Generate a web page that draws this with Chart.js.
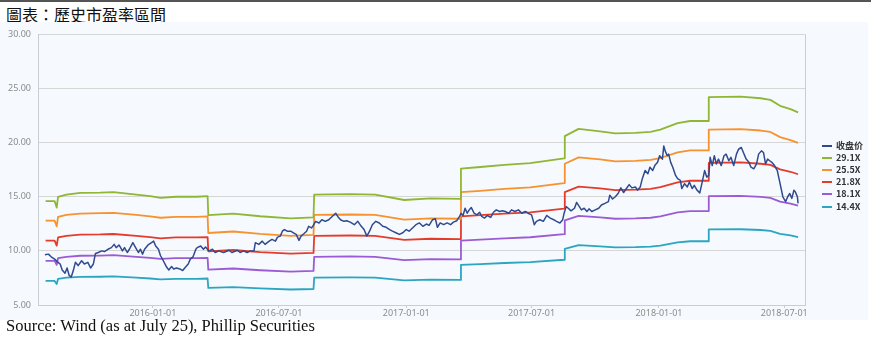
<!DOCTYPE html>
<html><head><meta charset="utf-8">
<script src="https://cdn.jsdelivr.net/npm/chart.js@4.4.1/dist/chart.umd.min.js"></script>
<style>
html,body{margin:0;padding:0;background:#fff;}
body{width:871px;height:341px;position:relative;overflow:hidden;}
#topline{position:absolute;left:0;top:0;width:871px;height:2px;background:#555;}
#title{position:absolute;left:6px;top:4px;font-family:"Noto Sans CJK TC",sans-serif;font-size:16px;line-height:20px;color:#111;white-space:nowrap;}
#panel{position:absolute;left:0;top:22px;width:868px;height:298px;background:#f6f9fd;}
#source{position:absolute;left:6px;top:317px;font-family:"Liberation Serif",serif;font-size:16.5px;line-height:18px;color:#111;white-space:nowrap;}
#legend{position:absolute;left:822px;top:139.6px;font-family:"Noto Sans CJK SC",sans-serif;font-size:9px;font-weight:bold;color:#333;}
.item{height:12.2px;line-height:12.2px;display:flex;align-items:center;white-space:nowrap;}
.sw{width:10px;height:2px;margin-right:4px;}
</style></head>
<body>
<div id="topline"></div>
<div id="title">圖表：歷史市盈率區間</div>
<div id="panel"><canvas id="c" width="868" height="298"></canvas></div>
<div id="legend"></div>
<div id="source">Source: Wind (as at July 25), Phillip Securities</div>
<script>
// x values are days counted from 2016-01-01
const ORIGIN = '2016-01-01';
const tickLabels = ['2016-01-01','2016-07-01','2017-01-01','2017-07-01','2018-01-01','2018-07-01'];
const yTicks = [5,10,15,20,25,30];

const seriesNames = ['收盘价','29.1X','25.5X','21.8X','18.1X','14.4X'];
const seriesColors = ['#2f4a8f','#8fb733','#f7922e','#e53b2a','#9b5bd4','#2aa6c1'];

const closeDays = [-156,-151,-147,-142,-137,-134,-131,-127,-124,-121,-118,-115,-112,-108,-103,-99,-94,-90,-86,-83,-79,-74,-70,-65,-60,-56,-53,-49,-44,-41,-37,-34,-29,-25,-21,-18,-15,-12,-7,-2,1,4,8,11,15,20,23,27,30,34,39,43,46,51,54,58,62,64,69,73,76,81,86,90,95,102,110,114,122,126,131,136,141,146,148,153,158,162,167,172,177,180,184,187,190,194,199,203,207,211,214,218,222,225,229,231,235,240,244,249,254,259,264,267,271,276,280,285,291,296,301,305,309,313,317,322,327,332,337,342,346,351,356,361,366,370,375,380,385,390,395,399,404,408,411,415,420,425,430,434,439,443,445,448,451,454,457,460,464,468,472,475,479,483,488,492,496,501,505,509,514,518,523,528,533,538,542,547,551,554,559,564,569,574,579,583,588,592,594,597,600,604,609,612,616,619,623,627,630,634,639,644,648,653,658,660,664,668,672,676,680,684,688,692,697,700,704,707,711,715,718,722,725,729,732,736,738,740,743,745,748,751,755,758,762,764,768,772,775,779,782,786,790,793,797,800,803,805,808,811,814,817,821,825,828,832,835,839,843,846,850,853,857,861,864,868,872,875,879,882,885,888,891,894,898,902,905,908,910,914,917,920,923,926,928,931,932];
const closePrice = [9.64,9.7,9.45,9.24,8.94,8.79,8.24,7.94,8.42,7.73,7.58,8.18,8.94,8.64,9.09,8.79,8.94,8.42,8.79,9.76,9.85,10.0,9.94,10.15,10.3,10.6,10.3,10.55,10.0,10.3,9.85,10.15,10.76,10.3,9.85,10.15,9.7,10.15,10.55,10.76,10.9,10.45,10.15,9.55,9.09,8.48,8.24,8.55,8.33,8.42,8.33,8.18,8.42,8.79,9.24,9.45,10.15,10.3,10.45,10.15,10.36,10.0,10.15,9.85,10.0,9.85,10.06,9.85,10.06,9.85,10.0,9.85,10.0,10.0,10.76,10.6,10.9,10.6,10.85,11.06,10.9,11.27,11.36,11.82,11.97,11.82,11.82,11.67,11.52,10.97,11.36,11.58,11.82,12.27,12.12,12.27,12.73,12.58,12.88,12.73,12.88,13.18,13.48,13.18,12.88,12.73,12.79,12.66,12.42,12.73,12.27,11.97,11.36,11.82,12.42,12.73,12.58,12.27,12.18,11.97,11.82,11.67,11.52,11.67,11.97,11.82,12.12,12.42,12.58,12.27,12.48,12.36,12.88,12.97,12.18,12.58,12.42,12.58,12.42,12.66,12.79,13.18,13.48,13.27,13.94,13.48,13.79,14.0,13.48,13.33,13.57,13.18,13.03,13.27,13.09,13.57,13.79,13.64,13.7,13.64,13.48,13.79,13.64,13.79,13.48,13.64,13.48,13.33,12.42,12.73,12.88,12.73,13.27,13.03,12.88,12.73,12.58,12.88,13.48,14.09,13.94,13.7,13.94,14.48,14.09,13.79,13.94,13.64,13.88,13.64,13.79,13.94,14.24,14.39,14.55,15.15,14.79,15.0,15.3,15.82,15.39,15.76,16.12,15.82,15.91,15.61,15.91,16.67,17.42,17.12,17.73,17.42,17.88,18.18,18.79,18.48,19.7,19.24,18.79,18.94,18.18,17.73,16.97,16.67,16.52,15.76,16.21,15.91,16.36,15.76,16.06,15.61,15.36,16.21,17.42,16.82,16.97,18.64,17.88,18.79,18.03,18.48,17.88,18.79,18.94,18.33,18.64,17.88,18.94,19.39,19.55,19.09,18.48,18.18,17.73,17.58,18.03,18.94,19.24,19.09,18.03,18.48,18.33,18.18,17.88,17.42,16.52,15.61,15.0,14.55,15.0,15.3,14.85,15.61,15.45,15.0,14.39];

const bandDays = [-155,-142,-139,-137,-125,-105,-76,-57,-24,-4,11,33,63,79,80,116,155,199,232,233,285,321,363,401,444,445,473,508,545,594,595,615,646,668,697,719,733,758,776,802,803,849,878,892,906,921,932];
const pe291 = [14.6,14.6,14.0,15.0,15.2,15.35,15.38,15.43,15.2,15.05,14.9,15.0,15.0,15.05,13.3,13.45,13.2,13.0,13.1,15.2,15.25,15.2,14.7,14.85,14.8,17.6,17.75,17.95,18.1,18.55,20.6,21.27,21.05,20.85,20.9,21.0,21.2,21.8,22.0,22.0,24.2,24.25,24.1,23.95,23.4,23.1,22.8];
const pe255 = [12.79,12.79,12.27,13.14,13.32,13.45,13.48,13.52,13.32,13.19,13.06,13.14,13.14,13.19,11.65,11.79,11.57,11.39,11.48,13.32,13.36,13.32,12.88,13.01,12.97,15.42,15.55,15.73,15.86,16.26,18.05,18.64,18.45,18.27,18.31,18.40,18.58,19.10,19.28,19.28,21.21,21.25,21.12,20.99,20.51,20.24,19.98];
const pe218 = [10.94,10.94,10.49,11.24,11.39,11.50,11.52,11.56,11.39,11.27,11.16,11.24,11.24,11.27,9.96,10.08,9.89,9.74,9.81,11.39,11.42,11.39,11.01,11.12,11.09,13.18,13.30,13.45,13.56,13.90,15.43,15.93,15.77,15.62,15.66,15.73,15.88,16.33,16.48,16.48,18.13,18.17,18.05,17.94,17.53,17.31,17.08];
const pe181 = [9.08,9.08,8.71,9.33,9.45,9.55,9.57,9.60,9.45,9.36,9.27,9.33,9.33,9.36,8.27,8.37,8.21,8.09,8.15,9.45,9.49,9.45,9.14,9.24,9.21,10.95,11.04,11.16,11.26,11.54,12.81,13.23,13.09,12.97,13.00,13.06,13.19,13.56,13.68,13.68,15.05,15.08,14.99,14.90,14.55,14.37,14.18];
const pe144 = [7.22,7.22,6.93,7.42,7.52,7.60,7.61,7.64,7.52,7.45,7.37,7.42,7.42,7.45,6.58,6.66,6.53,6.43,6.48,7.52,7.55,7.52,7.27,7.35,7.32,8.71,8.78,8.88,8.96,9.18,10.19,10.53,10.42,10.32,10.34,10.39,10.49,10.79,10.89,10.89,11.98,12.00,11.93,11.85,11.58,11.43,11.28];

const X_MIN = -166, X_MAX = 942;

function dayOf(s){
  const p = s.split('-').map(Number), o = ORIGIN.split('-').map(Number);
  return Math.round((Date.UTC(p[0],p[1]-1,p[2]) - Date.UTC(o[0],o[1]-1,o[2]))/86400000);
}
const tickDays = tickLabels.map(dayOf);
const pts = (xs, ys) => xs.map((x,i)=>({x:x, y:ys[i]}));

const bandValues = [pe291, pe255, pe218, pe181, pe144];
const datasets = [{
  label: seriesNames[0], data: pts(closeDays, closePrice),
  borderColor: seriesColors[0], borderWidth: 1.5
}];
bandValues.forEach((arr,i)=>{
  datasets.push({label: seriesNames[i+1], data: pts(bandDays, arr), borderColor: seriesColors[i+1], borderWidth: 1.8});
});
datasets.forEach(d=>{ d.pointRadius=0; d.tension=0; d.fill=false; d.borderJoinStyle='round'; });

const tickFont = {family:'"Noto Sans", sans-serif', size:9};
const rightBorder = {
  id:'rightBorder',
  beforeDatasetsDraw(chart){
    const a = chart.chartArea, ctx = chart.ctx;
    ctx.save(); ctx.strokeStyle='#c9ced6'; ctx.lineWidth=1;
    ctx.beginPath(); ctx.moveTo(Math.round(a.right)+0.5, a.top); ctx.lineTo(Math.round(a.right)+0.5, a.bottom); ctx.stroke();
    ctx.restore();
  }
};

new Chart(document.getElementById('c'), {
  type:'line',
  data:{datasets},
  plugins:[rightBorder],
  options:{
    responsive:false, animation:false, devicePixelRatio:1,
    layout:{padding:{left:0, top:8, right:63, bottom:0}},
    plugins:{legend:{display:false}, tooltip:{enabled:false}},
    scales:{
      x:{type:'linear', min:X_MIN, max:X_MAX,
        afterBuildTicks:s=>{ s.ticks = tickDays.map(v=>({value:v})); },
        afterFit:s=>{ s.height = 15; },
        grid:{drawOnChartArea:false, drawTicks:true, tickLength:3, color:'#c9ced6'},
        border:{color:'#c9ced6'},
        ticks:{autoSkip:false, maxRotation:0, minRotation:0, padding:0, color:'#8c8c8c', font:tickFont,
          callback:(v,i)=>tickLabels[i]}
      },
      y:{min:yTicks[0], max:yTicks[yTicks.length-1],
        afterBuildTicks:s=>{ s.ticks = yTicks.map(v=>({value:v})); },
        afterFit:s=>{ s.width = 38; },
        grid:{color:'#d6d6d6', drawTicks:false},
        border:{color:'#c9ced6'},
        ticks:{padding:7, color:'#8c8c8c', font:tickFont, callback:v=>Number(v).toFixed(2)}
      }
    }
  }
});

const lg = document.getElementById('legend');
seriesNames.forEach((n,i)=>{
  const it = document.createElement('div'); it.className='item';
  const sw = document.createElement('span'); sw.className='sw'; sw.style.background=seriesColors[i];
  const tx = document.createElement('span'); tx.textContent = n;
  it.appendChild(sw); it.appendChild(tx); lg.appendChild(it);
});
</script>
</body></html>
